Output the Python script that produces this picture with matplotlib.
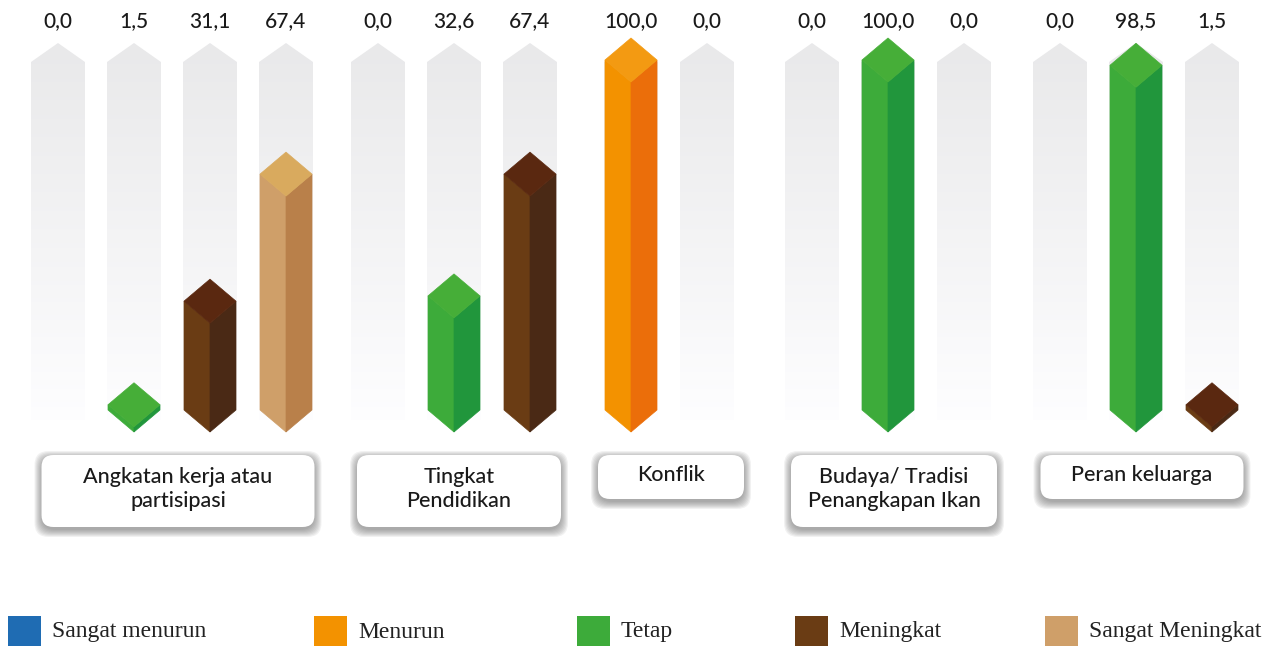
import matplotlib.pyplot as plt
import numpy as np
from matplotlib.patches import Polygon, FancyBboxPatch, Rectangle

# survey results (percent) per factor
factors = ["Angkatan kerja atau\npartisipasi", "Tingkat\nPendidikan", "Konflik",
           "Budaya/ Tradisi\nPenangkapan Ikan", "Peran keluarga"]
menurun = [0.0, 0.0, 100.0, 0.0, 0.0]
tetap = [1.5, 32.6, 0.0, 100.0, 98.5]
meningkat = [31.1, 67.4, None, 0.0, 1.5]
sangat_meningkat = [67.4, None, None, None, None]

legend_labels = ["Sangat menurun", "Menurun", "Tetap", "Meningkat", "Sangat Meningkat"]
legend_colors = ["#1f6cb3", "#f39200", "#3dab3a", "#6a3c14", "#cf9f69"]

# (left face, right face, top face)
shades = {
    "Menurun": ("#f39200", "#eb6e0a", "#f39a12"),
    "Tetap": ("#3dab3a", "#21963c", "#46ae38"),
    "Meningkat": ("#6a3c14", "#4a2915", "#5a2810"),
    "Sangat Meningkat": ("#cf9f69", "#b9804a", "#d9aa5e"),
}
series = [("Menurun", menurun), ("Tetap", tetap),
          ("Meningkat", meningkat), ("Sangat Meningkat", sangat_meningkat)]

# layout in pixels
W, H = 1278, 646
group_start = [58, 378, 631, 812, 1060]
step = 76
hw = 26          # half bar width
base = 410       # bottom shoulder of bars
scale = 3.5      # px per percent
d = 22           # isometric depth of top/bottom faces
box_w = [273, 204, 146, 206, 203]
box_dx = [6, 5, 2, 6, 6]

fig = plt.figure(figsize=(W / 100, H / 100), dpi=100)
ax = fig.add_axes([0, 0, 1, 1])
ax.set_xlim(0, W)
ax.set_ylim(H, 0)
ax.axis("off")

grad = np.concatenate([np.linspace(0.918, 0.965, 150), np.linspace(0.965, 1.0, 106)])[:, None]
grad = np.dstack([grad * 0.995, grad * 0.995, grad, np.ones_like(grad)])


def column(xc):
    # faded background column
    pts = [(xc - 27, 62), (xc, 43), (xc + 27, 62), (xc + 27, 420), (xc - 27, 420)]
    poly = Polygon(pts, closed=True, facecolor="none", edgecolor="none")
    ax.add_patch(poly)
    im = ax.imshow(grad, extent=[xc - 27, xc + 27, 420, 43], aspect="auto",
                   interpolation="bicubic", zorder=1)
    im.set_clip_path(poly)


def prism(xc, value, cols):
    left, right, top = cols
    yt = base - scale * value
    ax.add_patch(Polygon([(xc - hw, yt), (xc, yt + d), (xc, base + d), (xc - hw, base)],
                         closed=True, facecolor=left, edgecolor=left, lw=0.5, zorder=3))
    ax.add_patch(Polygon([(xc, yt + d), (xc + hw, yt), (xc + hw, base), (xc, base + d)],
                         closed=True, facecolor=right, edgecolor=right, lw=0.5, zorder=3))
    ax.add_patch(Polygon([(xc - hw, yt), (xc, yt - d), (xc + hw, yt), (xc, yt + d)],
                         closed=True, facecolor=top, edgecolor=top, lw=0.5, zorder=4))


for g, name in enumerate(factors):
    slot = 0
    centers = []
    for cat, vals in series:
        v = vals[g]
        if v is None:
            continue
        xc = group_start[g] + slot * step
        centers.append(xc)
        column(xc)
        if v > 0:
            prism(xc, v, shades[cat])
        ax.text(xc, 21, f"{v:.1f}".replace(".", ","), ha="center", va="center",
                fontsize=15, family="Lato", fontweight="medium", color="#1a1a1a")
        slot += 1

    # label box with soft shadow
    cx = (centers[0] + centers[-1]) / 2 + box_dx[g]
    nlines = name.count("\n") + 1
    bh = 72 if nlines == 2 else 44
    bw = box_w[g]
    x0, y0 = cx - bw / 2, 455
    for k in range(8, 0, -1):
        ax.add_patch(FancyBboxPatch((x0 - k + 1, y0 - k + 4), bw + 2 * k - 2, bh + 2 * k - 2,
                                    boxstyle="round,pad=0,rounding_size=14",
                                    facecolor="#555555", edgecolor="none",
                                    alpha=0.08, zorder=5))
    ax.add_patch(FancyBboxPatch((x0, y0), bw, bh, boxstyle="round,pad=0,rounding_size=12",
                                facecolor="white", edgecolor="none", zorder=6))
    ax.text(cx, y0 + bh / 2 - 2, name, ha="center", va="center", fontsize=15.5,
            family="Lato", fontweight="medium", color="#1a1a1a", linespacing=1.25, zorder=7)

# legend
leg_x = [8, 314, 577, 795, 1045]
for x, lab, c in zip(leg_x, legend_labels, legend_colors):
    ax.add_patch(Rectangle((x, 616), 33, 30, facecolor=c, edgecolor="none"))
    ax.text(x + 44, 632, lab, ha="left", va="center", fontsize=17,
            family="Liberation Serif", color="#222222")

fig.savefig("out.png", dpi=100)
